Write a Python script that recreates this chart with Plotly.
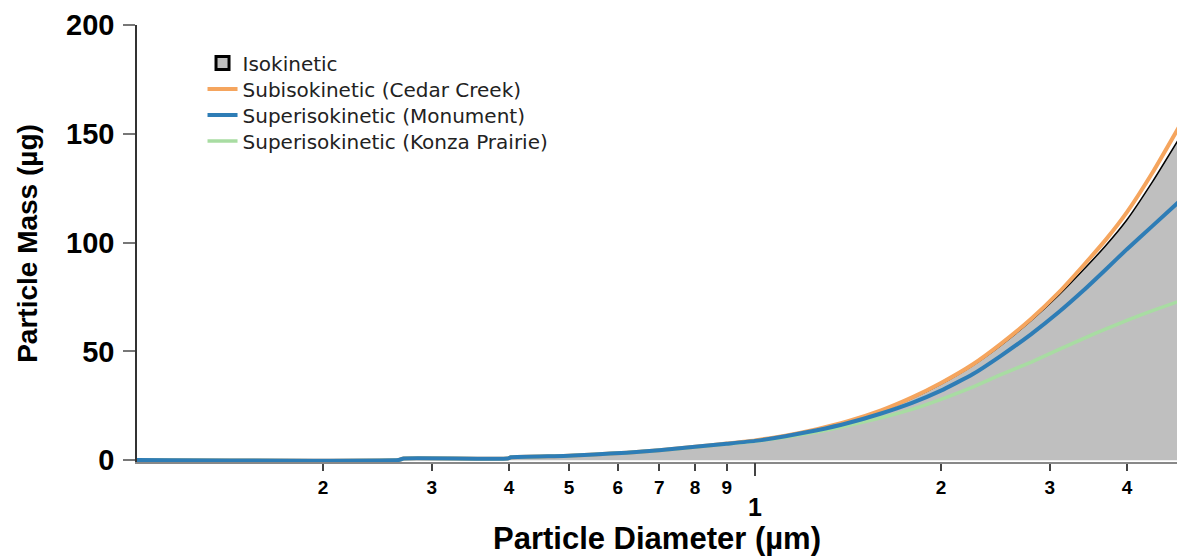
import plotly.graph_objects as go

# Particle diameter (µm) and cumulative particle mass (µg) per sampling condition
diameter_um = [0.10, 0.265, 0.27, 0.398, 0.403, 0.49, 0.55, 0.62, 0.70, 0.80, 0.90,
               1.00, 1.12, 1.26, 1.41, 1.60, 1.80, 2.00, 2.25, 2.50, 2.80, 3.10,
               3.40, 3.70, 4.00, 4.40, 4.85]

isokinetic = [0.1, 0.1, 0.8, 0.8, 1.4, 2.0, 2.7, 3.5, 4.6, 6.2, 7.7,
              9.0, 11.2, 14.1, 17.6, 22.6, 28.6, 35.0, 43.5, 52.8, 64.2, 75.8,
              87.5, 98.8, 110.5, 128.0, 147.5]

cedar_creek = [0.1, 0.1, 0.8, 0.8, 1.4, 2.0, 2.7, 3.5, 4.6, 6.2, 7.7,
               9.1, 11.3, 14.3, 17.8, 22.9, 29.0, 35.5, 44.0, 53.5, 65.0, 77.0,
               89.5, 101.5, 114.0, 132.2, 152.9]

monument = [0.1, 0.1, 0.8, 0.8, 1.4, 2.0, 2.7, 3.5, 4.6, 6.2, 7.6,
            8.9, 11.0, 13.8, 17.0, 21.5, 26.5, 32.0, 39.5, 48.0, 58.0, 68.0,
            78.0, 87.8, 97.0, 107.7, 118.7]

konza_prairie = [0.1, 0.1, 0.8, 0.8, 1.4, 2.0, 2.7, 3.5, 4.6, 6.1, 7.5,
                 8.7, 10.6, 13.0, 15.8, 19.5, 23.5, 28.0, 33.6, 39.3, 45.1, 50.8,
                 55.9, 60.4, 64.3, 68.8, 73.0]

# Axis ticks
x_tick_vals = [0.2, 0.3, 0.4, 0.5, 0.6, 0.7, 0.8, 0.9, 2, 3, 4]
x_tick_text = ["2", "3", "4", "5", "6", "7", "8", "9", "2", "3", "4"]
x_unit_tick = [1]
x_unit_text = ["1"]
y_tick_vals = [0, 50, 100, 150, 200]

FONT = "Liberation Sans, Arial, sans-serif"
LEGEND_FONT = "DejaVu Sans, Liberation Sans, sans-serif"
ORANGE = "#f5a55e"
BLUE = "#2e7db6"
GREEN = "#a8dca2"
GRAY_FILL = "#bfbfbf"
SMOOTH = 0.4

fig = go.Figure()

fig.add_trace(go.Scatter(
    x=diameter_um, y=isokinetic, mode="lines", fill="tozeroy",
    fillcolor=GRAY_FILL, line=dict(color="black", width=1.5, shape="spline", smoothing=SMOOTH),
    name="Isokinetic", showlegend=False,
))
# legend swatch for the filled isokinetic area
fig.add_trace(go.Scatter(
    x=[None], y=[None], mode="markers", name="Isokinetic", legend="legend",
    marker=dict(symbol="square", size=13, color=GRAY_FILL,
                line=dict(color="black", width=3)),
))
fig.add_trace(go.Scatter(
    x=diameter_um, y=cedar_creek, mode="lines", name="Subisokinetic (Cedar Creek)",
    line=dict(color=ORANGE, width=4, shape="spline", smoothing=SMOOTH), legend="legend2",
))
fig.add_trace(go.Scatter(
    x=diameter_um, y=konza_prairie, mode="lines", name="Superisokinetic (Konza Prairie)",
    line=dict(color=GREEN, width=3.5, shape="spline", smoothing=SMOOTH), legend="legend4",
))
fig.add_trace(go.Scatter(
    x=diameter_um, y=monument, mode="lines", name="Superisokinetic (Monument)",
    line=dict(color=BLUE, width=4, shape="spline", smoothing=SMOOTH), legend="legend3",
))

x_range = [-1, 0.683]

# one legend box per entry, stacked with a tight row pitch
legend_rows_y = [0.913, 0.8535, 0.794, 0.7346]
legend_style = dict(
    x=0.063, xanchor="left", yanchor="middle",
    bgcolor="rgba(255,255,255,0)",
    font=dict(size=20, color="#222", family=LEGEND_FONT),
    itemwidth=30,
)
legends = {}
for i, ly in enumerate(legend_rows_y):
    key = "legend" if i == 0 else f"legend{i + 1}"
    legends[key] = dict(legend_style, y=ly)

fig.update_layout(
    width=1177, height=556,
    margin=dict(l=137, r=0, t=25, b=94),
    paper_bgcolor="white", plot_bgcolor="white",
    font=dict(family=FONT, color="black"),
    showlegend=True,
    **legends,
    xaxis=dict(
        type="log", range=x_range,
        tickmode="array", tickvals=x_tick_vals, ticktext=x_tick_text,
        ticks="outside", ticklen=7, tickwidth=1.5, tickcolor="#444",
        tickfont=dict(size=19, family=FONT, color="black", weight="bold"),
        showline=True, linecolor="#888", linewidth=2,
        showgrid=False, zeroline=False,
        title=dict(text="<b>Particle Diameter (µm)</b>",
                   font=dict(size=31, family=FONT), standoff=36),
    ),
    xaxis2=dict(
        type="log", range=x_range, overlaying="x", side="bottom",
        tickmode="array", tickvals=x_unit_tick, ticktext=x_unit_text,
        ticks="outside", ticklen=13, tickwidth=1.5, tickcolor="#444",
        tickfont=dict(size=25, family=FONT, color="black", weight="bold"),
        ticklabelstandoff=10,
        showline=False, showgrid=False, zeroline=False,
    ),
    yaxis=dict(
        range=[-0.8, 200],
        tickmode="array", tickvals=y_tick_vals,
        ticks="outside", ticklen=12, tickwidth=1.5, tickcolor="#777",
        tickfont=dict(size=29, family=FONT, color="black", weight="bold"),
        ticklabelstandoff=3,
        showline=True, linecolor="#333", linewidth=1.5,
        showgrid=False, zeroline=False,
        title=dict(text="<b>Particle Mass (µg)</b>",
                   font=dict(size=28, family=FONT), standoff=20),
    ),
)

# invisible helper so the overlaying unit axis is rendered
fig.add_trace(go.Scatter(x=[None], y=[None], xaxis="x2", showlegend=False,
                         hoverinfo="skip"))

fig.write_html("out.html")
